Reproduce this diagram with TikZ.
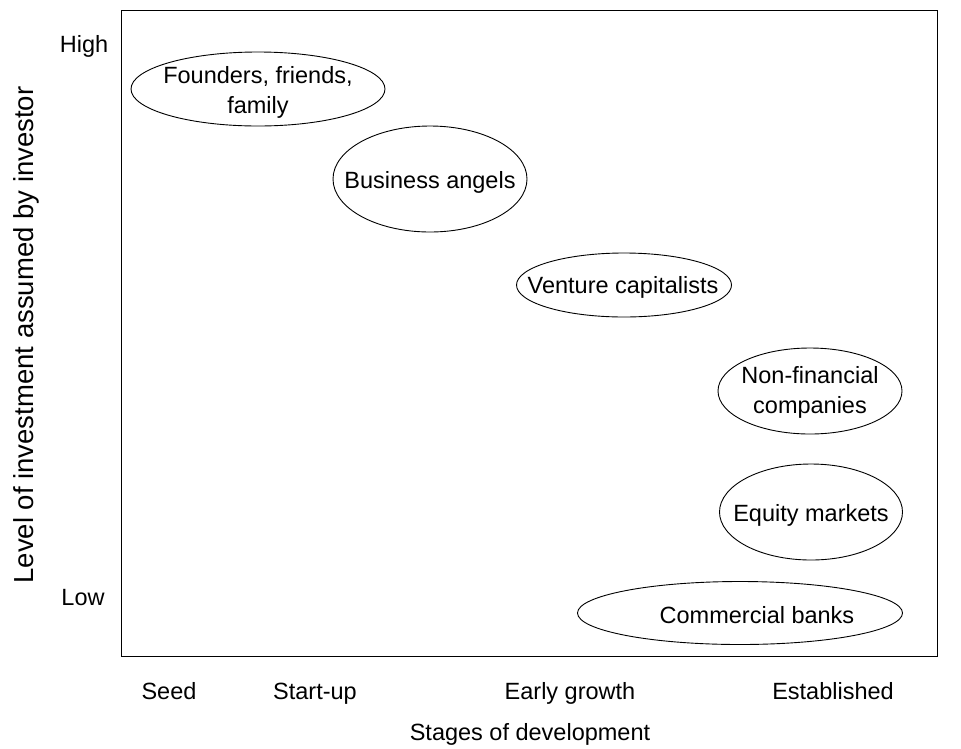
\documentclass[tikz,border=0pt]{standalone}
\usepackage{fontspec}
\setmainfont{Liberation Sans}
\begin{document}
\begin{tikzpicture}[x=1pt,y=-1pt,
  txt/.style={inner sep=0pt, align=center, font=\fontsize{23.5}{30}\selectfont},
  btxt/.style={txt, anchor=base},
  oval/.style={draw, line width=0.9pt},
  frame/.style={draw, line width=1pt}]
\useasboundingbox (0,0) rectangle (961,748);
% frame
\coordinate (tl) at (121,10);
\coordinate (br) at (937,656);
\draw[frame] (tl) rectangle (br);
% axis labels
\node[btxt] (high) at (84,52) {High};
\node[btxt] (low) at (83,605) {Low};
\node[txt, anchor=base, rotate=90, font=\fontsize{27.5}{30}\selectfont] (ylab) at (33,335) {Level of investment assumed by investor};
\node[btxt] (seed) at (169,699.5) {Seed};
\node[btxt] (startup) at (315,699.5) {Start-up};
\node[btxt] (early) at (570,699.5) {Early growth};
\node[btxt] (estab) at (833,699.5) {Established};
\node[btxt] (xlab) at (530,740.5) {Stages of development};
% ellipses
\coordinate (e1) at (258,89);
\draw[oval] (e1) ellipse [x radius=127, y radius=37];
\node[txt] (t1) at (258,92) {Founders, friends,\\family};
\coordinate (e2) at (430,179);
\draw[oval] (e2) ellipse [x radius=97, y radius=53];
\node[btxt] (t2) at (430,188) {Business angels};
\coordinate (e3) at (624,285);
\draw[oval] (e3) ellipse [x radius=107.5, y radius=32];
\node[btxt] (t3) at (623,293) {Venture capitalists};
\coordinate (e4) at (810,391);
\draw[oval] (e4) ellipse [x radius=92, y radius=43];
\node[txt] (t4) at (810,392) {Non-financial\\companies};
\coordinate (e5) at (811,512);
\draw[oval] (e5) ellipse [x radius=91.5, y radius=48];
\node[btxt] (t5) at (811,521) {Equity markets};
\coordinate (e6) at (740,613);
\draw[oval] (e6) ellipse [x radius=162.5, y radius=31.5];
\node[btxt] (t6) at (757,623) {Commercial banks};
\end{tikzpicture}
\end{document}
